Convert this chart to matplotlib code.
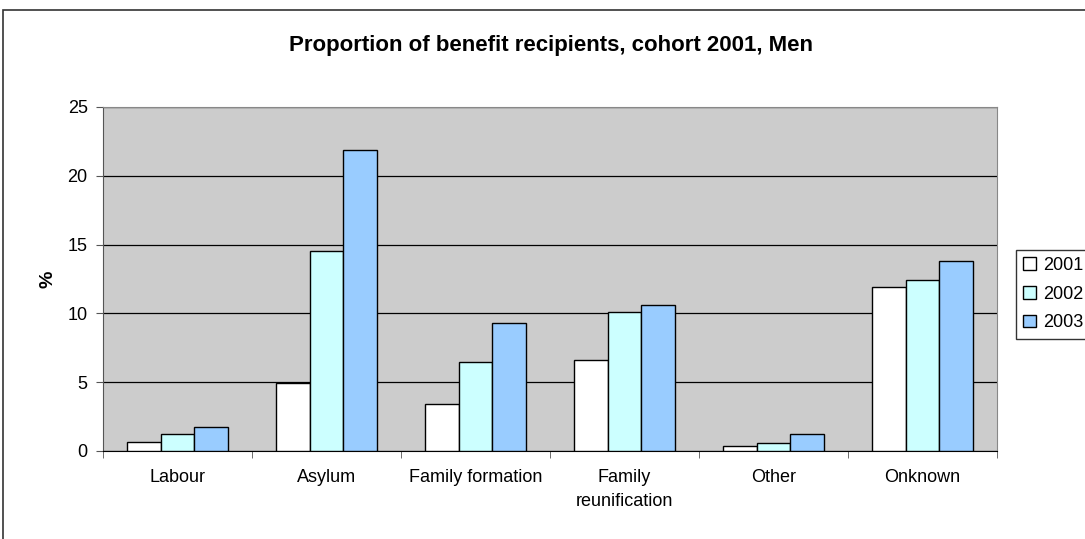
import matplotlib.pyplot as plt
import numpy as np
from matplotlib.patches import Rectangle

plt.rcParams['font.family'] = ['Liberation Sans', 'DejaVu Sans']

categories = ['Labour', 'Asylum', 'Family formation', 'Family\nreunification', 'Other', 'Onknown']
years = ['2001', '2002', '2003']
v2001 = [0.63, 4.97, 3.45, 6.6, 0.35, 11.9]
v2002 = [1.25, 14.55, 6.5, 10.1, 0.6, 12.4]
v2003 = [1.75, 21.9, 9.3, 10.6, 1.27, 13.8]
colors = ['#FFFFFF', '#CCFFFF', '#99CCFF']

fig = plt.figure(figsize=(10.85, 5.39), dpi=100)
ax = fig.add_axes([0.0949, 0.1633, 0.824, 0.6382])

# outer chart border (clipped at right/bottom like the original)
fig.patches.append(Rectangle((3/1085, -0.05), 1.2, 1 - 10/539 + 0.05,
                             transform=fig.transFigure, fill=False,
                             edgecolor='#333333', lw=1.2))

x = np.arange(len(categories))
w = 0.225
for i, (vals, c) in enumerate(zip([v2001, v2002, v2003], colors)):
    ax.bar(x + (i - 1) * w, vals, w, color=c, edgecolor='black', lw=1.0,
           label=years[i], zorder=3)

ax.set_facecolor('#CCCCCC')
ax.set_xlim(-0.5, len(categories) - 0.5)
ax.set_ylim(0, 25)
ax.set_yticks([0, 5, 10, 15, 20, 25])
ax.yaxis.grid(True, color='black', lw=0.9, zorder=1)
ax.set_axisbelow(True)

ax.set_xticks(x)
ax.set_xticklabels(categories, fontsize=13, linespacing=1.55)
ax.tick_params(axis='x', length=0, pad=13)
ax.set_xticks(np.arange(-0.5, len(categories)), minor=True)
ax.tick_params(axis='x', which='minor', length=5, color='#555555')
ax.tick_params(axis='y', labelsize=13, length=5, color='#555555', pad=6)

for s in ['top', 'right']:
    ax.spines[s].set_color('#888888')
ax.spines['left'].set_color('#555555')
ax.spines['bottom'].set_color('black')

ax.set_ylabel('%', fontsize=14, fontweight='bold', labelpad=8)

fig.text(551/1085, 1 - 45/539, 'Proportion of benefit recipients, cohort 2001, Men',
         ha='center', va='center', fontsize=16, fontweight='bold')

leg = ax.legend(loc='upper left', bbox_to_anchor=(1.021, 0.585), fontsize=13,
                frameon=True, fancybox=False, edgecolor='black', facecolor='white',
                handlelength=0.7, handleheight=0.7, handletextpad=0.4,
                labelspacing=0.65, borderaxespad=0, borderpad=0.4)
leg.get_frame().set_linewidth(1.0)

fig.savefig('out.png', dpi=100)
